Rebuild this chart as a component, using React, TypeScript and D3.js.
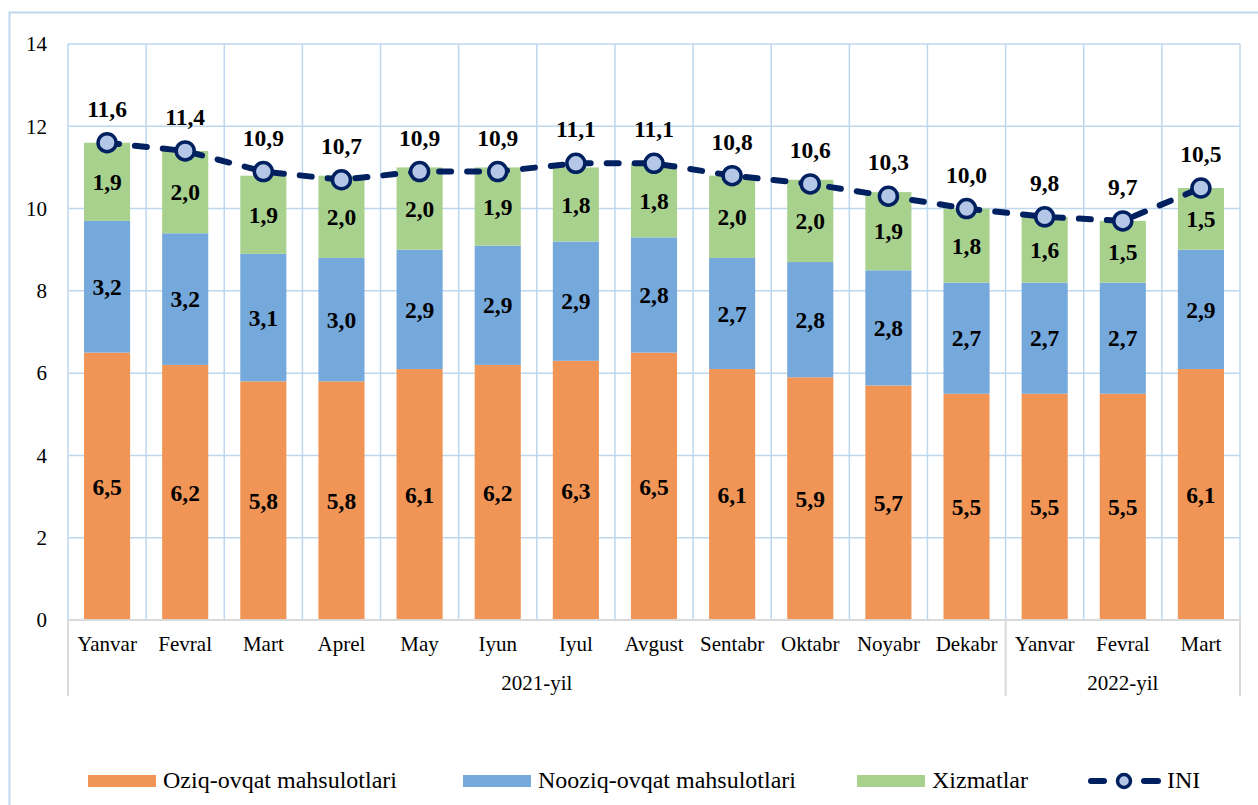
import React from "react";
import * as d3 from "d3";

const months = ["Yanvar","Fevral","Mart","Aprel","May","Iyun","Iyul","Avgust","Sentabr","Oktabr","Noyabr","Dekabr","Yanvar","Fevral","Mart"];
const years = [{ label: "2021-yil", start: 0, end: 12 }, { label: "2022-yil", start: 12, end: 15 }];
const oziq = [6.5,6.2,5.8,5.8,6.1,6.2,6.3,6.5,6.1,5.9,5.7,5.5,5.5,5.5,6.1];
const nooziq = [3.2,3.2,3.1,3.0,2.9,2.9,2.9,2.8,2.7,2.8,2.8,2.7,2.7,2.7,2.9];
const xizmat = [1.9,2.0,1.9,2.0,2.0,1.9,1.8,1.8,2.0,2.0,1.9,1.8,1.6,1.5,1.5];
const ini = [11.6,11.4,10.9,10.7,10.9,10.9,11.1,11.1,10.8,10.6,10.3,10.0,9.8,9.7,10.5];
const yTicks = [0,2,4,6,8,10,12,14];
const seriesNames = ["Oziq-ovqat mahsulotlari","Nooziq-ovqat mahsulotlari","Xizmatlar","INI"];

const colors = ["#F09556","#75A8DB","#A9D18E"];
const navy = "#002060";
const grid = "#BDD7EE";
const font = "Liberation Serif";

const fmt = (v: number) => v.toFixed(1).replace(".", ",");

export default function App() {
  const left = 68, right = 1240, top = 44, bottom = 620;
  const idx = months.map((_, i) => i);
  const x = d3.scaleBand<number>().domain(idx).range([left, right]).paddingInner(0).paddingOuter(0);
  const y = d3.scaleLinear().domain([0, 14]).range([bottom, top]);
  const bw = x.bandwidth() * 0.59;
  const cx = (i: number) => (x(i) as number) + x.bandwidth() / 2;

  const stackData = idx.map((i) => ({ i, a: oziq[i], b: nooziq[i], c: xizmat[i] }));
  const stacked = d3.stack<any>().keys(["a", "b", "c"])(stackData);

  const line = d3.line<number>().x((_, i) => cx(i)).y((d) => y(d)).curve(d3.curveLinear);

  const legendY = 780;
  const legendItems = [
    { x: 88, name: seriesNames[0], color: colors[0] },
    { x: 463, name: seriesNames[1], color: colors[1] },
    { x: 857, name: seriesNames[2], color: colors[2] },
  ];
  const ts = { fontFamily: font } as React.CSSProperties;

  return (
    <svg width={1258} height={805} style={{ position: "absolute", left: 0, top: 0, background: "#fff", fontFamily: font }}>
      <rect x={9.5} y={12.5} width={1260} height={820} fill="#fff" stroke={grid} strokeWidth={2} />
      {yTicks.map((t) => (
        <line key={"h" + t} x1={left} x2={right} y1={y(t)} y2={y(t)} stroke={grid} strokeWidth={1.5} />
      ))}
      {d3.range(16).map((k) => {
        const xx = k < 15 ? (x(k) as number) : right;
        return <line key={"v" + k} x1={xx} x2={xx} y1={top} y2={bottom} stroke={grid} strokeWidth={1.5} />;
      })}
      {yTicks.map((t) => (
        <text key={"yt" + t} style={ts} x={47} y={y(t)} dy="0.35em" fontSize={21} textAnchor="end" fill="#000">{t}</text>
      ))}
      {stacked.map((s, si) => (
        <g key={"s" + si}>
          {s.map((d, i) => (
            <rect key={i} x={cx(i) - bw / 2} width={bw} y={y(d[1])} height={y(d[0]) - y(d[1])} fill={colors[si]} />
          ))}
        </g>
      ))}
      {stacked.map((s, si) => (
        <g key={"l" + si}>
          {s.map((d, i) => (
            <text key={i} style={ts} x={cx(i)} y={(y(d[0]) + y(d[1])) / 2} dy="0.35em" textAnchor="middle" fontSize={23.5} fontWeight="bold" fill="#000">
              {fmt(d[1] - d[0])}
            </text>
          ))}
        </g>
      ))}
      <line x1={left} x2={right + 1} y1={bottom} y2={bottom} stroke="#D9D9D9" strokeWidth={2} />
      {[0, 12, 15].map((k) => {
        const xx = k < 15 ? (x(k) as number) : right;
        return <line key={"g" + k} x1={xx} x2={xx} y1={bottom} y2={696} stroke="#D9D9D9" strokeWidth={2} />;
      })}
      {months.map((m, i) => (
        <text key={"m" + i} style={ts} x={cx(i)} y={651} textAnchor="middle" fontSize={21} fill="#000">{m}</text>
      ))}
      {years.map((g) => (
        <text key={g.label} style={ts} x={((x(g.start) as number) + (g.end < 15 ? (x(g.end) as number) : right)) / 2} y={690} textAnchor="middle" fontSize={21} fill="#000">
          {g.label}
        </text>
      ))}
      <path d={line(ini) || ""} fill="none" stroke={navy} strokeWidth={6} strokeDasharray="12 16" strokeLinecap="round" />
      {ini.map((v, i) => (
        <g key={"p" + i}>
          <circle cx={cx(i)} cy={y(v)} r={9} fill="#B4C7E7" stroke={navy} strokeWidth={3.5} />
          <text style={ts} x={cx(i)} y={y(v) - 26} textAnchor="middle" fontSize={23.5} fontWeight="bold" fill="#000">{fmt(v)}</text>
        </g>
      ))}
      {legendItems.map((l) => (
        <g key={l.name}>
          <rect x={l.x} y={legendY - 5} width={68} height={12} fill={l.color} />
          <text style={ts} x={l.x + 75} y={legendY} dy="0.35em" fontSize={24} fill="#000">{l.name}</text>
        </g>
      ))}
      <g>
        <line x1={1091} x2={1104} y1={legendY + 1} y2={legendY + 1} stroke={navy} strokeWidth={6} strokeLinecap="round" />
        <line x1={1144} x2={1158} y1={legendY + 1} y2={legendY + 1} stroke={navy} strokeWidth={6} strokeLinecap="round" />
        <circle cx={1124} cy={legendY + 1} r={6.5} fill="#B4C7E7" stroke={navy} strokeWidth={3.5} />
        <text style={ts} x={1167} y={legendY} dy="0.35em" fontSize={24} fill="#000">{seriesNames[3]}</text>
      </g>
    </svg>
  );
}
